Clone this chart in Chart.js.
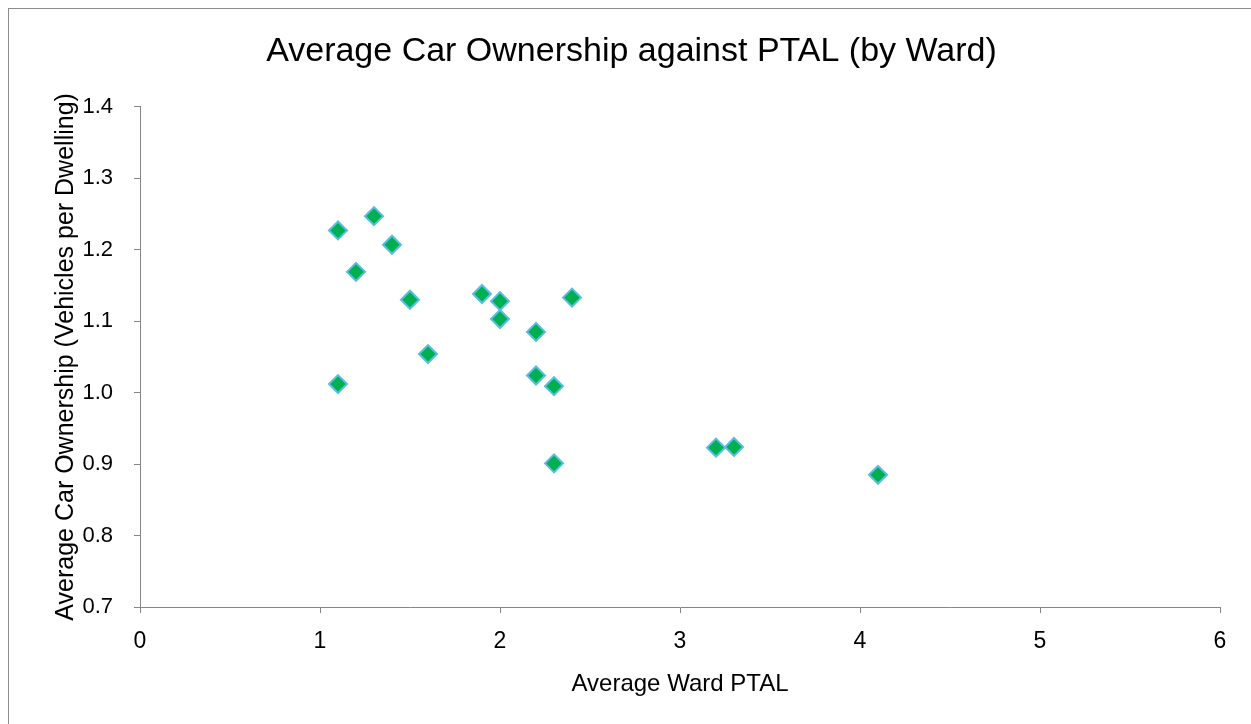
<!DOCTYPE html>
<html>
<head>
<meta charset="utf-8">
<title>Average Car Ownership against PTAL</title>
<script src="https://cdn.jsdelivr.net/npm/chart.js@4/dist/chart.umd.min.js"></script>
<style>
  html, body { margin: 0; padding: 0; background: #fff; overflow: hidden; }
  #wrap { width: 1251px; height: 724px; position: relative; }
</style>
</head>
<body>
<div id="wrap"><canvas id="chart" width="1251" height="724"></canvas></div>
<script>
// datos por ward (PTAL medio, coches por vivienda)
const wardPtal = [1.1, 1.3, 1.4, 1.2, 1.5, 1.6, 1.1, 1.9, 2.0, 2.0, 2.4, 2.2, 2.2, 2.3, 2.3, 3.2, 3.3, 4.1];
const carOwnership = [1.227, 1.247, 1.207, 1.169, 1.130, 1.054, 1.012, 1.138, 1.128, 1.103, 1.133, 1.085, 1.024, 1.009, 0.901, 0.923, 0.924, 0.885];

const xTicks = [0, 1, 2, 3, 4, 5, 6];
const yTicks = [0.7, 0.8, 0.9, 1.0, 1.1, 1.2, 1.3, 1.4];

const FONT = '"Liberation Sans", Arial, sans-serif';
const AXIS = '#868686';

// fondo blanco + marco exterior
const framePlugin = {
  id: 'frame',
  beforeDraw(chart) {
    const ctx = chart.ctx;
    ctx.save();
    ctx.fillStyle = '#fff';
    ctx.fillRect(0, 0, chart.width, chart.height);
    ctx.strokeStyle = '#8c8c8c';
    ctx.lineWidth = 1;
    ctx.strokeRect(8.5, 8.5, chart.width + 20, chart.height + 20);
    ctx.restore();
  }
};

const points = wardPtal.map((x, i) => ({ x: x, y: carOwnership[i] }));

new Chart(document.getElementById('chart').getContext('2d'), {
  type: 'scatter',
  data: {
    datasets: [{
      label: 'Wards',
      data: points,
      pointStyle: 'rectRot',
      pointRadius: 9,
      pointHoverRadius: 9,
      pointBackgroundColor: '#00b050',
      pointBorderColor: '#5bbde0',
      pointBorderWidth: 2
    }]
  },
  plugins: [framePlugin],
  options: {
    responsive: false,
    animation: false,
    layout: { padding: { left: 43, right: 31, top: 0, bottom: 0 } },
    plugins: {
      legend: { display: false },
      tooltip: { enabled: false },
      title: {
        display: true,
        text: 'Average Car Ownership against PTAL (by Ward)',
        color: '#000',
        font: { family: FONT, size: 34, weight: 'normal' },
        padding: { top: 31, bottom: 35 }
      }
    },
    scales: {
      x: {
        type: 'linear',
        min: 0, max: 6,
        afterBuildTicks: s => { s.ticks = xTicks.map(v => ({ value: v })); },
        afterFit: s => { s.height = 117; },
        border: { color: AXIS, width: 1 },
        grid: { display: true, drawOnChartArea: false, color: AXIS, tickLength: 6 },
        ticks: {
          color: '#000', padding: 15,
          font: { family: FONT, size: 23 },
          callback: v => String(v)
        },
        title: {
          display: true, text: 'Average Ward PTAL', color: '#000',
          font: { family: FONT, size: 24 },
          padding: { top: 0, bottom: 25 }
        }
      },
      y: {
        type: 'linear',
        min: 0.7, max: 1.4,
        afterBuildTicks: s => { s.ticks = yTicks.map(v => ({ value: v })); },
        afterFit: s => { s.width = 97; },
        border: { color: AXIS, width: 1 },
        grid: { display: true, drawOnChartArea: false, color: AXIS, tickLength: 6 },
        ticks: {
          color: '#000', padding: 21,
          font: { family: FONT, size: 22 },
          callback: v => Number(v).toFixed(1)
        },
        title: {
          display: true, text: 'Average Car Ownership (Vehicles per Dwelling)', color: '#000',
          font: { family: FONT, size: 25 },
          padding: { top: 8, bottom: 0 }
        }
      }
    }
  }
});
</script>
</body>
</html>
